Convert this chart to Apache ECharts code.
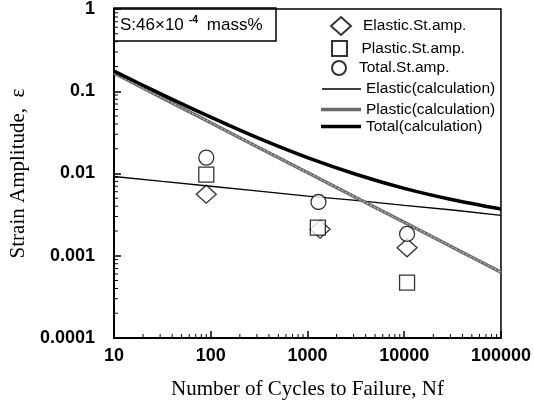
<!DOCTYPE html>
<html>
<head>
<meta charset="utf-8">
<script src="https://cdn.jsdelivr.net/npm/echarts@6/dist/echarts.min.js"></script>
<style>
  html, body { margin: 0; padding: 0; background: #fff; }
  #chart { width: 534px; height: 405px; }
</style>
</head>
<body>
<div id="chart"></div>
<script>
  // calculated curves
  var calcCycles = [10, 31.6, 100, 316, 1000, 3160, 10000, 31600, 100000]
  var elasticCalc = [0.0092, 0.0080, 0.0070, 0.0061, 0.0053, 0.0047, 0.0041, 0.0036, 0.0031]
  var plasticCalc = [0.167, 0.083, 0.0414, 0.0206, 0.0103, 0.0051, 0.00255, 0.00127, 0.00063]
  var totalCalc = [0.176, 0.091, 0.0484, 0.0267, 0.0156, 0.0098, 0.0066, 0.0048, 0.0037]

  // measured amplitudes
  var elasticCycles = [90, 1350, 10700]
  var elasticAmp = [0.0056, 0.0021, 0.00125]
  var plasticCycles = [90, 1280, 10700]
  var plasticAmp = [0.0097, 0.0022, 0.00047]
  var totalCycles = [90, 1300, 10700]
  var totalAmp = [0.0156, 0.0045, 0.00184]

  // log minor ticks (2..9 in each decade)
  var minorMult = [2, 3, 4, 5, 6, 7, 8, 9]
  var xDecades = [10, 100, 1000, 10000]
  var yDecades = [0.0001, 0.001, 0.01, 0.1]

  function pairs(xs, ys) {
    return xs.map(function (x, i) { return [x, ys[i]] })
  }

  var minorData = []
  xDecades.forEach(function (d) {
    minorMult.forEach(function (m) { minorData.push([d * m, 0.0001, 0]) })
  })
  yDecades.forEach(function (d) {
    minorMult.forEach(function (m) { minorData.push([10, d * m, 1]) })
  })

  var diamond = 'path://M0,-9L10,0L0,9L-10,0Z'
  var square = 'path://M0,0H10V10H0Z'
  var sans = 'Liberation Sans, Arial, sans-serif'
  var serif = 'Liberation Serif, Times New Roman, serif'

  var hollow = { color: '#fff', borderColor: '#000', borderWidth: 1.3 }

  function leg(name, left, top, w, h, icon) {
    return {
      data: [icon ? { name: name, icon: icon } : name],
      left: left, top: top, itemWidth: w, itemHeight: h,
      padding: 0, selectedMode: false,
      textStyle: { fontFamily: sans, fontSize: 15.5, color: '#000' }
    }
  }

  var chart = echarts.init(document.getElementById('chart'))
  chart.setOption({
    animation: false,
    backgroundColor: '#fff',
    title: {
      text: '{a|S:46\u00d710}{s|-4}{a| mass%}',
      left: 114, top: 8,
      padding: [7, 14, 7, 6],
      borderColor: '#000', borderWidth: 1.5,
      textStyle: {
        fontWeight: 'normal',
        rich: {
          a: { fontFamily: sans, fontSize: 17, fontWeight: 'normal', color: '#000', lineHeight: 21 },
          s: { fontFamily: sans, fontSize: 10.5, fontWeight: 'bold', color: '#000', verticalAlign: 'top', padding: [0, 4, 0, 5] }
        }
      }
    },
    legend: [
      leg('Elastic.St.amp.', 330, 16, 34, 18),
      leg('Plastic.St.amp.', 331, 40, 34, 15),
      leg('Total.St.amp.', 331, 60, 30, 14),
      leg('Elastic(calculation)', 322, 81, 39, 1.4, 'rect'),
      leg('Plastic(calculation)', 321, 101.5, 40, 3.5, 'rect'),
      leg('Total(calculation)', 321, 118.5, 40, 3.5, 'rect')
    ],
    grid: {
      left: 108, right: 33, top: 7, bottom: 64,
      show: true, borderColor: '#000', borderWidth: 1.5
    },
    xAxis: {
      type: 'log', min: 10, max: 100000, logBase: 10,
      name: 'Number of Cycles to Failure, Nf',
      nameLocation: 'middle', nameGap: 41,
      nameTextStyle: { fontFamily: serif, fontSize: 21, color: '#000' },
      axisLine: { lineStyle: { color: '#000', width: 2 } },
      axisTick: { inside: true, length: 7, lineStyle: { color: '#000', width: 1.5 } },
      splitLine: { show: false },
      axisLabel: {
        fontFamily: sans, fontWeight: 'bold', fontSize: 18, color: '#000', margin: 9,
        formatter: function (v) { return String(v) }
      }
    },
    yAxis: {
      type: 'log', min: 0.0001, max: 1, logBase: 10,
      name: 'Strain Amplitude,  \u03b5',
      nameLocation: 'middle', nameGap: 76, nameRotate: 90,
      nameTextStyle: { fontFamily: serif, fontSize: 21, color: '#000' },
      axisLine: { lineStyle: { color: '#000', width: 2 } },
      axisTick: { inside: true, length: 7, lineStyle: { color: '#000', width: 1.5 } },
      splitLine: { show: false },
      axisLabel: {
        fontFamily: sans, fontWeight: 'bold', fontSize: 18, color: '#000', margin: 19,
        formatter: function (v) { return String(v) }
      }
    },
    series: [
      {
        name: 'minorTicks', type: 'custom', silent: true, clip: false, z: 1,
        data: minorData,
        renderItem: function (params, api) {
          var p = api.coord([api.value(0), api.value(1)])
          var vertical = api.value(2) === 0
          return {
            type: 'line',
            shape: vertical
              ? { x1: p[0], y1: p[1], x2: p[0], y2: p[1] - 4 }
              : { x1: p[0], y1: p[1], x2: p[0] + 4, y2: p[1] },
            style: { stroke: '#000', lineWidth: 1 }
          }
        }
      },
      {
        name: 'Elastic(calculation)', type: 'line', symbol: 'none',
        data: pairs(calcCycles, elasticCalc),
        lineStyle: { color: '#000', width: 1.3 }, itemStyle: { color: '#000' }, z: 2
      },
      {
        name: 'Plastic(calculation)', type: 'line', symbol: 'none',
        data: pairs(calcCycles, plasticCalc),
        lineStyle: { color: '#6b6b6b', width: 3.5 }, itemStyle: { color: '#6b6b6b' }, z: 2
      },
      {
        name: 'plasticTexture', type: 'line', symbol: 'none', silent: true,
        data: pairs(calcCycles, plasticCalc),
        lineStyle: { color: '#cfcfcf', width: 1, type: [2, 2] }, z: 3
      },
      {
        name: 'Total(calculation)', type: 'line', symbol: 'none', smooth: 0.3,
        data: pairs(calcCycles, totalCalc),
        lineStyle: { color: '#000', width: 3.5 }, itemStyle: { color: '#000' }, z: 4
      },
      {
        name: 'Elastic.St.amp.', type: 'scatter', symbol: diamond, symbolSize: [20, 18],
        data: pairs(elasticCycles, elasticAmp), itemStyle: hollow, z: 5
      },
      {
        name: 'Plastic.St.amp.', type: 'scatter', symbol: square, symbolSize: 15,
        data: pairs(plasticCycles, plasticAmp), itemStyle: hollow, z: 6
      },
      {
        name: 'Total.St.amp.', type: 'scatter', symbol: 'circle', symbolSize: 15,
        data: pairs(totalCycles, totalAmp), itemStyle: hollow, z: 6
      }
    ]
  })
</script>
</body>
</html>
